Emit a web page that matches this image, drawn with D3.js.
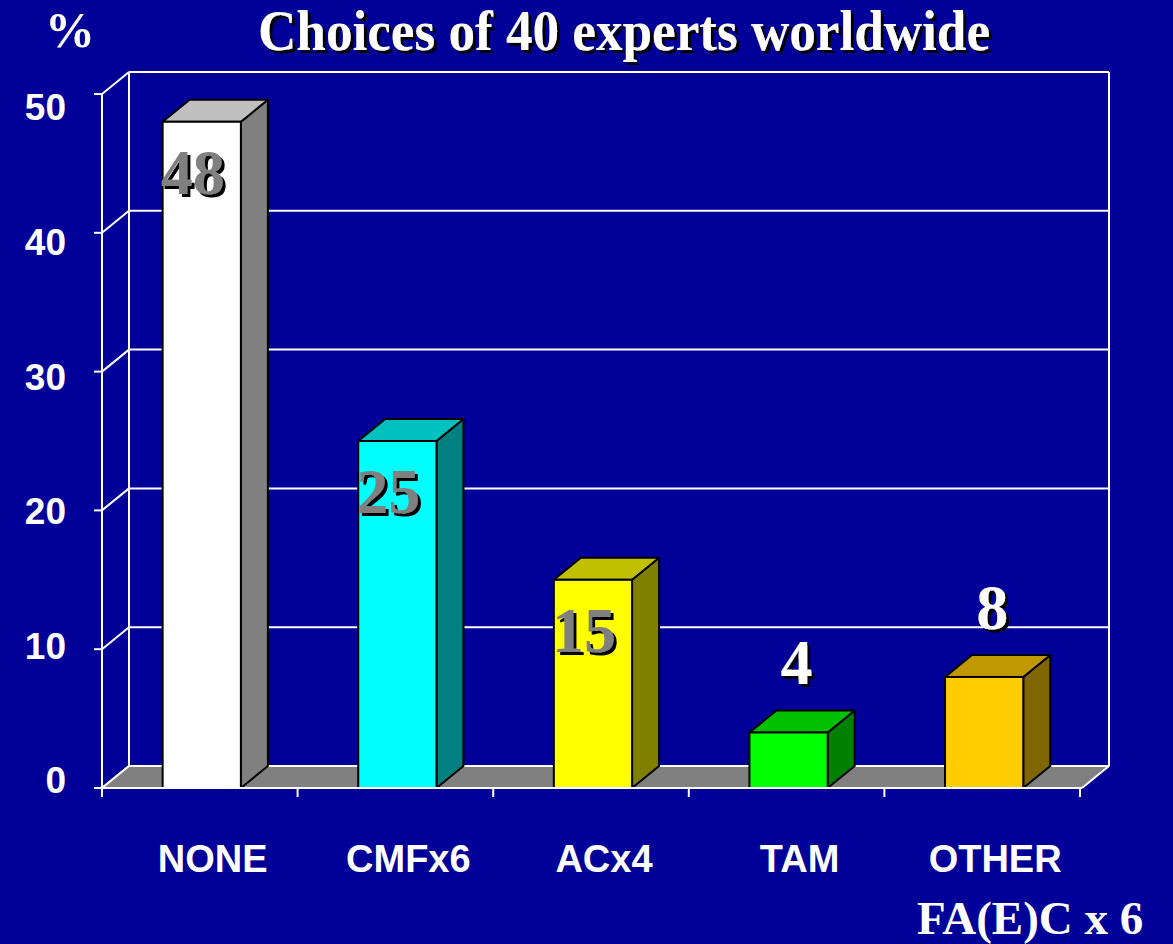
<!DOCTYPE html>
<html>
<head>
<meta charset="utf-8">
<script src="https://cdn.jsdelivr.net/npm/d3@7"></script>
<style>
  html, body { margin: 0; padding: 0; background: #000099; }
  svg { display: block; }
</style>
</head>
<body>
<script>
// ---- data ----
const categories = ["NONE", "CMFx6", "ACx4", "TAM", "OTHER"];
const values = [48, 25, 15, 4, 8];
const frontColors = ["#ffffff", "#00ffff", "#ffff00", "#00ff00", "#ffcc00"];
const topColors = ["#c0c0c0", "#00c0c0", "#c0c000", "#00c000", "#c09900"];
const sideColors = ["#808080", "#008080", "#808000", "#008000", "#806600"];
const yTicks = [0, 10, 20, 30, 40, 50];
const titleText = "Choices of 40 experts worldwide";
const yUnit = "%";
const footnote = "FA(E)C x 6";

// ---- layout ----
const W = 1173, H = 944;
const bg = "#000099";
const dx = 27, dy = -22;           // 3D depth offset
const x0 = 102, x1 = 1080;         // front axis span
const serif = "'Liberation Serif', 'Times New Roman', serif";
const sans = "'Liberation Sans', Arial, sans-serif";

const svg = d3.select("body").append("svg").attr("width", W).attr("height", H);
const defs = svg.append("defs");
defs.append("filter").attr("id", "shadow").attr("x", "-20%").attr("y", "-20%").attr("width", "140%").attr("height", "140%")
  .append("feDropShadow").attr("dx", 3).attr("dy", 3).attr("stdDeviation", 0).attr("flood-color", "#000").attr("flood-opacity", 1);
svg.append("rect").attr("width", W).attr("height", H).attr("fill", bg);

const y = d3.scaleLinear().domain([0, 50]).range([788, 94]);
const yLab = d3.scaleLinear().domain([0, 50]).range([780, 107]);
const x = d3.scaleBand().domain(categories).range([x0, x1]).padding(0);
const bw = x.bandwidth() * 0.4;
const barX = c => x(c) + x.bandwidth() * 0.31;
const rightFront = 1082;

const lineStyle = sel => sel.attr("stroke", "#ffffff").attr("stroke-width", 2).attr("fill", "none");

// back wall gridlines
const grid = svg.append("g");
grid.selectAll("line.back").data(yTicks).join("line")
  .attr("x1", x0 + dx).attr("x2", rightFront + dx)
  .attr("y1", d => y(d) + dy).attr("y2", d => y(d) + dy)
  .call(lineStyle);
grid.append("line").attr("x1", x0 + dx).attr("x2", x0 + dx)
  .attr("y1", y(50) + dy).attr("y2", y(0) + dy).call(lineStyle);
grid.append("line").attr("x1", rightFront + dx).attr("x2", rightFront + dx)
  .attr("y1", y(50) + dy).attr("y2", y(0) + dy).call(lineStyle);
grid.selectAll("line.diag").data(yTicks).join("line")
  .attr("x1", x0).attr("x2", x0 + dx)
  .attr("y1", d => y(d)).attr("y2", d => y(d) + dy)
  .call(lineStyle);

// floor
svg.append("polygon")
  .attr("points", [[x0, y(0)], [rightFront, y(0)], [rightFront + dx, y(0) + dy], [x0 + dx, y(0) + dy]].map(p => p.join(",")).join(" "))
  .attr("fill", "#808080");
svg.append("line").attr("x1", x0 + dx).attr("x2", rightFront + dx)
  .attr("y1", y(0) + dy).attr("y2", y(0) + dy).call(lineStyle);
svg.append("line").attr("x1", x0).attr("x2", x0 + dx)
  .attr("y1", y(0)).attr("y2", y(0) + dy).call(lineStyle);
svg.append("line").attr("x1", rightFront).attr("x2", rightFront + dx)
  .attr("y1", y(0)).attr("y2", y(0) + dy).call(lineStyle);

// bars
const data = categories.map((c, i) => ({ c, v: values[i], i }));
const bars = svg.append("g").selectAll("g").data(data).join("g");
const pts = arr => arr.map(p => p.join(",")).join(" ");
bars.append("polygon") // side
  .attr("points", d => {
    const xl = barX(d.c) + bw, yt = y(d.v), yb = y(0);
    return pts([[xl, yb], [xl + dx, yb + dy], [xl + dx, yt + dy], [xl, yt]]);
  })
  .attr("fill", d => sideColors[d.i]).attr("stroke", "#000").attr("stroke-width", 2).attr("stroke-linejoin", "round");
bars.append("polygon") // top
  .attr("points", d => {
    const xl = barX(d.c), yt = y(d.v);
    return pts([[xl, yt], [xl + bw, yt], [xl + bw + dx, yt + dy], [xl + dx, yt + dy]]);
  })
  .attr("fill", d => topColors[d.i]).attr("stroke", "#000").attr("stroke-width", 2).attr("stroke-linejoin", "round");
bars.append("rect") // front
  .attr("x", d => barX(d.c)).attr("y", d => y(d.v))
  .attr("width", bw).attr("height", d => y(0) - y(d.v))
  .attr("fill", d => frontColors[d.i]).attr("stroke", "#000").attr("stroke-width", 2);

// front axis
svg.append("line").attr("x1", x0).attr("x2", x0).attr("y1", y(50)).attr("y2", y(0) + 9).call(lineStyle);
svg.append("line").attr("x1", x0 - 8).attr("x2", rightFront).attr("y1", y(0)).attr("y2", y(0)).call(lineStyle);
svg.selectAll("line.ytick").data(yTicks).join("line")
  .attr("x1", x0 - 8).attr("x2", x0).attr("y1", d => y(d)).attr("y2", d => y(d)).call(lineStyle);
const xTickPos = categories.map(c => x(c)).concat([x1]);
svg.selectAll("line.xtick").data(xTickPos).join("line")
  .attr("x1", d => d).attr("x2", d => d).attr("y1", y(0)).attr("y2", y(0) + 9).call(lineStyle);

// y tick labels
svg.selectAll("text.ylab").data(yTicks).join("text")
  .attr("x", 66).attr("y", d => yLab(d)).attr("dy", "0.36em")
  .attr("text-anchor", "end").attr("fill", "#fff")
  .attr("font-family", sans).attr("font-weight", "bold").attr("font-size", 37)
  .text(d => d);

// x category labels
svg.selectAll("text.xlab").data(data).join("text")
  .attr("x", d => barX(d.c) + bw / 2 + 11).attr("y", 872)
  .attr("text-anchor", "middle").attr("fill", "#fff")
  .attr("font-family", sans).attr("font-weight", "bold").attr("font-size", 38)
  .text(d => d.c);

// value labels
const inside = d => d.v > 10;
const lx = d => inside(d) ? barX(d.c) + bw / 2 - 9 : barX(d.c) + bw / 2 + 8;
const ly = d => inside(d) ? y(d.v) + 72 : y(d.v) - 48;
svg.append("g").selectAll("text").data(data).join("text")
  .attr("x", d => lx(d)).attr("y", d => ly(d))
  .attr("text-anchor", "middle").attr("fill", d => inside(d) ? "#808080" : "#ffffff")
  .attr("font-family", serif).attr("font-weight", "bold").attr("font-size", 64)
  .attr("filter", "url(#shadow)")
  .text(d => d.v);

// title
svg.append("text").attr("x", 258).attr("y", 50)
  .attr("fill", "#fff").attr("font-family", serif).attr("font-weight", "bold").attr("font-size", 56)
  .attr("textLength", 732).attr("lengthAdjust", "spacingAndGlyphs")
  .attr("filter", "url(#shadow)")
  .text(titleText);
// percent unit
svg.append("text").attr("x", 45).attr("y", 47).attr("fill", "#fff")
  .attr("font-family", serif).attr("font-weight", "bold").attr("font-size", 50).text(yUnit);
// footnote
svg.append("text").attr("x", 917).attr("y", 934).attr("fill", "#fff")
  .attr("font-family", serif).attr("font-weight", "bold").attr("font-size", 47).text(footnote);
</script>
</body>
</html>
